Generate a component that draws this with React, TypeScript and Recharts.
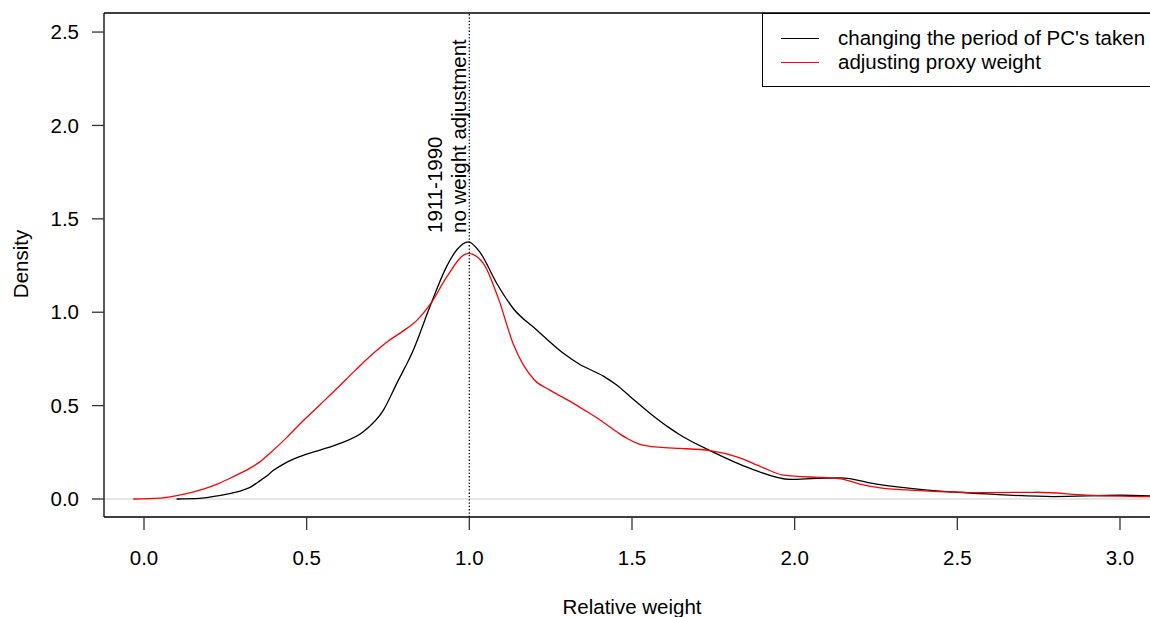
import { LineChart, Line, XAxis, YAxis, ReferenceLine, Legend, Label } from 'recharts';

const FONT = '"Liberation Sans", Arial, sans-serif';

// Density estimate: relative weight -> density
const periodX = [0.1, 0.17, 0.22, 0.274, 0.3, 0.326, 0.35, 0.375, 0.397, 0.43, 0.459, 0.5, 0.541, 0.603, 0.674, 0.736, 0.777, 0.828, 0.879, 0.93, 0.961, 0.997, 1.033, 1.084, 1.135, 1.207, 1.289, 1.34, 1.412, 1.453, 1.5, 1.555, 1.617, 1.648, 1.74, 1.863, 1.986, 2.068, 2.14, 2.252, 2.385, 2.5, 2.59, 2.795, 3.0, 3.12];
const periodY = [0, 0.003, 0.015, 0.033, 0.045, 0.062, 0.09, 0.12, 0.152, 0.188, 0.213, 0.24, 0.262, 0.298, 0.36, 0.476, 0.619, 0.798, 1.03, 1.244, 1.333, 1.377, 1.32, 1.155, 1.02, 0.905, 0.78, 0.72, 0.658, 0.61, 0.54, 0.459, 0.378, 0.343, 0.259, 0.164, 0.105, 0.111, 0.113, 0.08, 0.052, 0.036, 0.027, 0.013, 0.02, 0.015];

const proxyX = [-0.033, 0.03, 0.07, 0.12, 0.172, 0.225, 0.275, 0.326, 0.357, 0.387, 0.439, 0.49, 0.541, 0.592, 0.65, 0.705, 0.75, 0.797, 0.838, 0.879, 0.931, 0.982, 0.997, 1.043, 1.09, 1.135, 1.2, 1.248, 1.32, 1.35, 1.402, 1.453, 1.484, 1.52, 1.555, 1.6, 1.648, 1.74, 1.822, 1.9, 1.965, 2.068, 2.11, 2.15, 2.2, 2.263, 2.385, 2.59, 2.744, 2.898, 3.12];
const proxyY = [0, 0.003, 0.009, 0.025, 0.048, 0.08, 0.12, 0.165, 0.2, 0.245, 0.33, 0.42, 0.505, 0.59, 0.69, 0.78, 0.845, 0.9, 0.955, 1.04, 1.19, 1.306, 1.315, 1.262, 1.07, 0.83, 0.637, 0.583, 0.512, 0.48, 0.423, 0.36, 0.325, 0.295, 0.282, 0.275, 0.271, 0.259, 0.226, 0.17, 0.128, 0.116, 0.113, 0.105, 0.08, 0.06, 0.045, 0.034, 0.036, 0.021, 0.012];

const seriesNames = ["changing the period of PC's taken", 'adjusting proxy weight'];
const seriesColors = ['#000000', '#ff0000'];

const xTicks = [0, 0.5, 1, 1.5, 2, 2.5, 3];
const yTicks = [0, 0.5, 1, 1.5, 2, 2.5];

const X_MIN = -0.12295;
const X_MAX = 3.123;
const Y_MIN = -0.0964;
const Y_MAX = 2.602;

const periodData = periodX.map((x, i) => ({ x, y: periodY[i] }));
const proxyData = proxyX.map((x, i) => ({ x, y: proxyY[i] }));

const tickStyle = { fill: '#000', fontSize: 20.5, fontFamily: FONT };

// R-style legend box anchored to the top border of the plot
const renderLegend = (props: any) => {
  const payload = props.payload || [];
  const items = seriesNames.map((name, i) => {
    const hit = payload.find((p: any) => p.value === name);
    return { value: name, color: hit ? hit.color : seriesColors[i] };
  });
  return (
    <div style={{
      width: 420, height: 74, boxSizing: 'border-box',
      border: '1.3px solid #000', borderRight: 'none', background: '#fff',
      position: 'relative', fontFamily: FONT, fontSize: 20.5, color: '#000',
    }}>
      {items.map((item, i) => (
        <div key={item.value} style={{ position: 'absolute', left: 0, top: 12 + i * 24, height: 24, width: 420 }}>
          <div style={{ position: 'absolute', left: 18, top: 12, width: 38, height: 1.3, background: item.color }} />
          <span style={{ position: 'absolute', left: 75, top: 0, lineHeight: '24px', whiteSpace: 'nowrap' }}>{item.value}</span>
        </div>
      ))}
    </div>
  );
};

const annotation = (props: any) => {
  const vb = props.viewBox || {};
  const x = vb.x ?? 469;
  return (
    <g transform={`translate(${x - 27},233) rotate(-90)`} fontFamily={FONT} fontSize={20.5} fill="#000">
      <text x={0} y={0}>1911-1990</text>
      <text x={0} y={24}>no weight adjustment</text>
    </g>
  );
};

export default function App() {
  return (
    <div style={{ position: 'absolute', left: 0, top: 0, width: 1150, height: 617, overflow: 'hidden', background: '#fff' }}>
      <LineChart width={1170} height={617} margin={{ top: 13, right: 10, bottom: 40, left: 0 }} style={{ fontFamily: FONT }}>
        <XAxis
          type="number" dataKey="x" domain={[X_MIN, X_MAX]} allowDataOverflow
          ticks={xTicks} interval={0} tickFormatter={(v: number) => v.toFixed(1)}
          height={60} tickSize={13} tickMargin={20} tick={tickStyle}
          axisLine={{ stroke: '#000', strokeWidth: 1.3 }} tickLine={{ stroke: '#333', strokeWidth: 1.3 }}
        >
          <Label content={(p: any) => {
            const vb = p.viewBox || {};
            return <text x={(vb.x ?? 104) + (vb.width ?? 1056) / 2} y={614} textAnchor="middle" fontFamily={FONT} fontSize={20.5} fill="#000">Relative weight</text>;
          }} />
        </XAxis>
        <YAxis
          type="number" domain={[Y_MIN, Y_MAX]} allowDataOverflow
          ticks={yTicks} interval={0} tickFormatter={(v: number) => v.toFixed(1)}
          width={104} tickSize={12} tickMargin={13} tick={tickStyle}
          axisLine={{ stroke: '#000', strokeWidth: 1.3 }} tickLine={{ stroke: '#333', strokeWidth: 1.3 }}
        >
          <Label content={() => (
            <text x={28} y={264} transform="rotate(-90 28 264)" textAnchor="middle" fontFamily={FONT} fontSize={20.5} fill="#000">Density</text>
          )} />
        </YAxis>
        <ReferenceLine y={0} stroke="#dedede" strokeWidth={1.5} />
        <ReferenceLine y={Y_MAX} stroke="#000" strokeWidth={1.3} />
        <ReferenceLine x={1} stroke="#000" strokeWidth={1.3} strokeDasharray="1.3 2" label={annotation} />
        <Legend
          layout="vertical" align="center" verticalAlign="middle"
          content={renderLegend}
          wrapperStyle={{ left: 762, top: 13, width: 420, height: 74 }}
        />
        <Line data={periodData} dataKey="y" name={seriesNames[0]} type="monotone"
          stroke={seriesColors[0]} strokeWidth={1.3} dot={false} activeDot={false} isAnimationActive={false} />
        <Line data={proxyData} dataKey="y" name={seriesNames[1]} type="monotone"
          stroke={seriesColors[1]} strokeWidth={1.3} dot={false} activeDot={false} isAnimationActive={false} />
      </LineChart>
    </div>
  );
}
